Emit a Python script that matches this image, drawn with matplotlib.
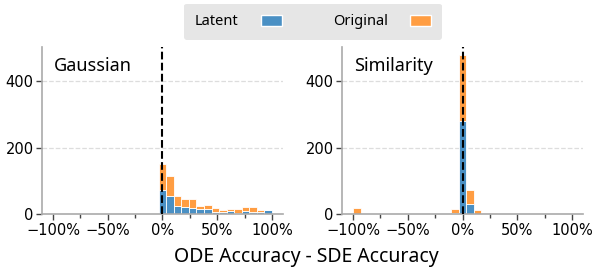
import matplotlib
matplotlib.use("Agg")
import matplotlib.pyplot as plt
from matplotlib.patches import Patch
from matplotlib.ticker import FixedLocator, FuncFormatter
import numpy as np

#---Data (counts per bin, bins = 29 equal bins on [-1, 1])---
bin_edges = np.linspace(-1, 1, 30)

# Gaussian panel: bins 14..28 (first one is centered on 0)
gauss_latent = [0]*14 + [72, 54, 26, 22, 20, 16, 15, 8, 6, 10, 3, 11, 8, 7, 12]
gauss_total = [0]*14 + [150, 114, 54, 46, 46, 25, 27, 20, 13, 16, 17, 22, 22, 14, 12]

# Similarity panel
sim_latent = [0, 0] + [0]*11 + [5, 280, 31, 0, 0, 0] + [0]*10
sim_total = [19, 2] + [0]*11 + [16, 477, 74, 13, 5, 3] + [0]*10

panels = ["Gaussian", "Similarity"]
series = ["Latent", "Original"]
xticks_major = [-1, -0.5, 0, 0.5, 1]
xticks_minor = [-0.75, -0.25, 0.25, 0.75]
yticks = [0, 200, 400]

#---Style---
c_latent = '#4a90c4'
c_orig = '#ff9d42'
spine_c = '#aaaaaa'
txt_font = ['Noto Sans', 'DejaVu Sans']

fig = plt.figure(figsize=(5.98, 2.71), dpi=100)
ax1 = fig.add_axes([0.0702, 0.209, 0.403, 0.618])
ax2 = fig.add_axes([0.572, 0.209, 0.403, 0.618], sharey=ax1)

lefts = bin_edges[:-1]
widths = np.diff(bin_edges)

def pct(v, pos):
    return ('%d%%' % round(v*100)).replace('-', '\u2212')

for ax, name, lat, tot in [(ax1, panels[0], gauss_latent, gauss_total),
                           (ax2, panels[1], sim_latent, sim_total)]:
    lat = np.array(lat)
    orig = np.array(tot) - lat
    ax.bar(lefts, lat, width=widths, align='edge', color=c_latent,
           edgecolor='white', linewidth=0.6, zorder=2)
    ax.bar(lefts, orig, width=widths, bottom=lat, align='edge', color=c_orig,
           edgecolor='white', linewidth=0.6, zorder=2)
    ax.axvline(0, color='black', linestyle='--', linewidth=1.5, zorder=3)

    ax.set_xlim(-1.1, 1.1)
    ax.set_ylim(0, 501)
    ax.xaxis.set_major_locator(FixedLocator(xticks_major))
    ax.xaxis.set_minor_locator(FixedLocator(xticks_minor))
    ax.xaxis.set_major_formatter(FuncFormatter(pct))
    ax.set_yticks(yticks)
    ax.tick_params(axis='y', labelleft=True)
    ax.tick_params(which='major', length=4, width=1, color='#444444', labelsize=10.5, pad=2)
    ax.tick_params(which='minor', length=3, width=1, color='#444444')

    for g in [200, 400]:
        ax.axhline(g, color='#dddddd', linestyle='--', linewidth=0.9, zorder=0)

    for s in ['top', 'right']:
        ax.spines[s].set_visible(False)
    for s in ['left', 'bottom']:
        ax.spines[s].set_color(spine_c)
        ax.spines[s].set_linewidth(1.2)

    ax.text(0.05, 0.885, name, transform=ax.transAxes, fontsize=13,
            family=txt_font, va='center', ha='left')

fig.text(0.512, 0.052, "ODE Accuracy - SDE Accuracy", fontsize=14,
         family=txt_font, ha='center', va='center')

handles = [Patch(facecolor=c_latent, edgecolor='white'),
           Patch(facecolor=c_orig, edgecolor='white')]
leg = fig.legend(handles, series, loc='center', bbox_to_anchor=(0.523, 0.919),
                 ncol=2, markerfirst=False, frameon=True, fancybox=True,
                 facecolor='#e6e6e6', edgecolor='none', framealpha=1,
                 prop={'family': txt_font, 'size': 10.5},
                 columnspacing=3.5, handletextpad=1.55, handlelength=1.4,
                 handleheight=0.85, borderpad=0.75, borderaxespad=0)

fig.savefig("out.png", dpi=100)
